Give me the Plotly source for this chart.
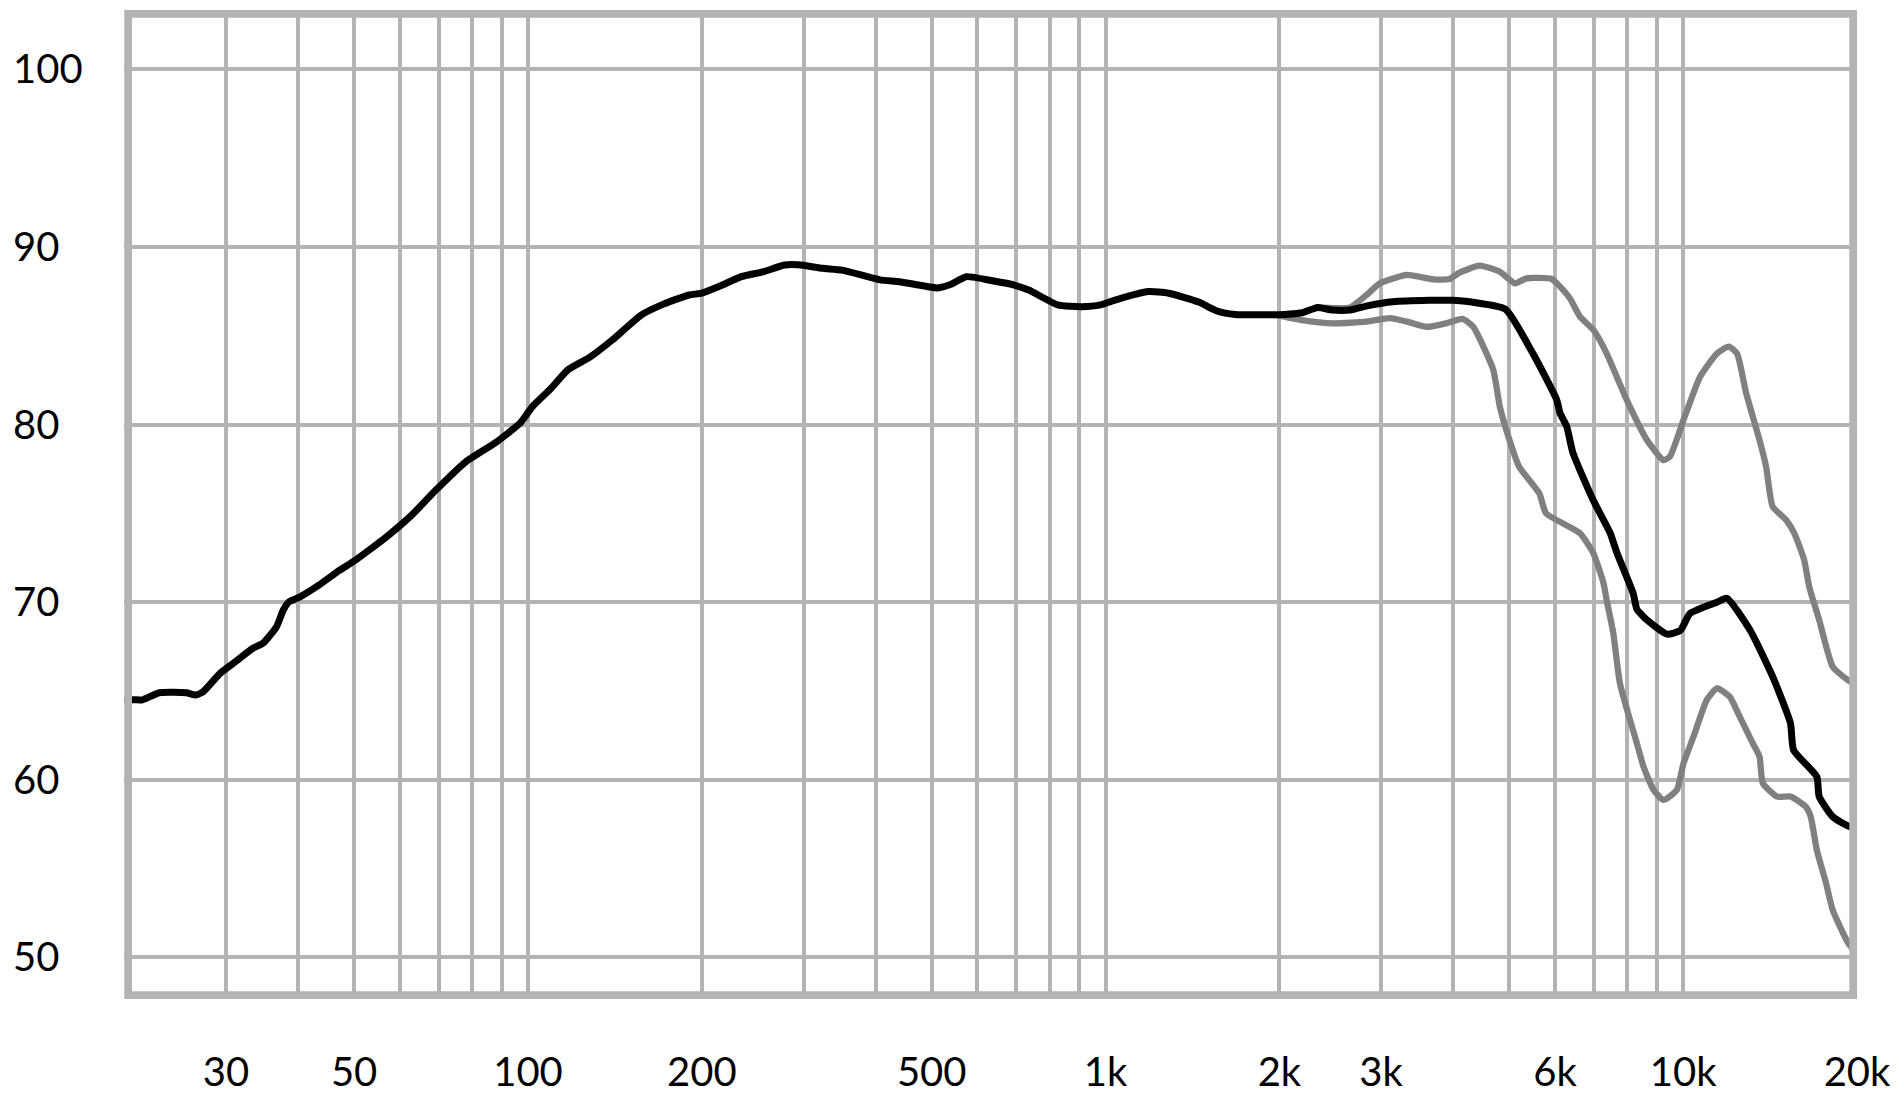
import math
import plotly.graph_objects as go

# ---------------- data ----------------
black_freq = [20, 20.7, 21.5, 23.0, 25.6, 26.6, 27.4, 29.3, 30.9, 33.4, 34.8, 36.7, 37.7, 38.6, 40.3,
              43.5, 47.2, 49.8, 53.1, 57.0, 62.9, 69.2, 78.0, 88.0, 97.0, 101.7, 109.3, 117.4, 128,
              140, 157, 172, 190, 200, 215, 234, 255, 278, 294, 324, 350, 407, 440, 512, 540, 574,
              637, 695, 736, 826, 909, 980, 1035, 1187, 1286, 1450, 1559, 1676, 2036, 2187, 2330,
              2469, 2650, 2850, 3142, 3632, 4000, 4305, 4924, 5495, 6040, 6121, 6286, 6446, 6985,
              7474, 7676, 8193, 8315, 8431, 8655, 9375, 9885, 10280, 11440, 11910, 13070, 14290,
              15340, 15530, 17040, 17200, 18150, 19290, 20000]
black_db = [64.45, 64.5, 64.5, 64.9, 64.9, 64.77, 64.96, 65.99, 66.56, 67.4, 67.7, 68.62, 69.56, 70.03, 70.3,
            70.97, 71.8, 72.28, 72.94, 73.7, 74.9, 76.3, 77.9, 79.0, 80.1, 81.0, 82.0, 83.1, 83.8,
            84.77, 86.17, 86.8, 87.3, 87.4, 87.8, 88.33, 88.6, 88.99, 89.0, 88.8, 88.7, 88.15, 88.05, 87.7, 87.9, 88.33,
            88.1, 87.86, 87.58, 86.74, 86.64, 86.74, 87.0, 87.49, 87.4, 86.9, 86.4, 86.2, 86.2, 86.3, 86.6,
            86.45, 86.45, 86.7, 86.92, 87.0, 87.0, 86.9, 86.5, 84.0, 81.4, 80.65, 79.9, 78.4, 75.75,
            73.9, 72.8, 70.5, 69.6, 69.37, 69.0, 68.2, 68.4, 69.37, 70.0, 70.22, 68.4, 65.8,
            63.18, 61.67, 60.17, 59.05, 57.92, 57.4, 57.2]

upper_freq = [2300, 2650, 2830, 2986, 3325, 3693, 3940, 4100, 4443, 4816, 5115, 5358, 5920, 6121, 6370,
              6628, 6993, 7374, 7986, 8655, 9248, 9487, 10014, 10700, 11440, 11990, 12400, 12860, 13560,
              13920, 14290, 15080, 15580, 16200, 16530, 17200, 18150, 19310, 20000]
upper_db = [86.6, 86.6, 87.3, 87.96, 88.43, 88.18, 88.2, 88.56, 88.95, 88.61, 87.96, 88.24, 88.2, 87.77, 87.1,
            86.08, 85.33, 84.0, 81.39, 79.13, 78.0, 78.2, 80.26, 82.7, 84.0, 84.39, 84.0, 81.76, 79.13,
            77.63, 75.38, 74.63, 73.88, 72.38, 70.87, 69.0, 66.37, 65.6, 65.3]

lower_freq = [1950, 2172, 2480, 2830, 3105, 3325, 3599, 3880, 4150, 4333, 4689, 4816, 5004, 5200, 5636,
              5790, 6628, 6993, 7280, 7374, 7570, 7772, 8315, 8540, 8888, 9248, 9750, 10014, 10420, 10990,
              11440, 12040, 12530, 13200, 13560, 13740, 14540, 15340, 16300, 16630, 17040, 17680, 18150,
              19310, 20000]
lower_db = [86.2, 85.9, 85.7, 85.8, 86.0, 85.8, 85.5, 85.7, 85.95, 85.5, 83.1, 81.0, 79.13, 77.63, 76.13,
            75.0, 73.88, 72.75, 71.06, 70.1, 68.25, 65.43, 62.05, 60.73, 59.42, 58.86, 59.42, 60.92, 62.42, 64.5,
            65.15, 64.68, 63.55, 62.05, 61.3, 59.8, 59.05, 59.05, 58.48, 57.92, 56.04, 54.17, 52.66,
            50.8, 50.2]

grid_freqs = [30, 40, 50, 60, 70, 80, 90, 100, 200, 300, 400, 500, 600, 700, 800, 900,
              1000, 2000, 3000, 4000, 5000, 6000, 7000, 8000, 9000, 10000, 20000]
labels = {30: "30", 50: "50", 100: "100", 200: "200", 500: "500", 1000: "1k", 2000: "2k",
          3000: "3k", 6000: "6k", 10000: "10k", 20000: "20k"}
x_ticktext = [labels.get(f, "") for f in grid_freqs]

y_ticks = [50, 60, 70, 80, 90, 100]
y_range = [47.65, 103.35]
x_range_hz = [20, 20000]

# ---------------- styling ----------------
GRID = "#b3b3b3"
FONT = "Lato"
SMOOTH = 0.5

fig = go.Figure()
fig.add_trace(go.Scatter(x=lower_freq, y=lower_db, mode="lines",
                         line=dict(color="#808080", width=6.3, shape="spline", smoothing=SMOOTH),
                         hoverinfo="skip"))
fig.add_trace(go.Scatter(x=upper_freq, y=upper_db, mode="lines",
                         line=dict(color="#808080", width=6.3, shape="spline", smoothing=SMOOTH),
                         hoverinfo="skip"))
fig.add_trace(go.Scatter(x=black_freq, y=black_db, mode="lines", yaxis="y2",
                         line=dict(color="#000000", width=7, shape="spline", smoothing=SMOOTH),
                         hoverinfo="skip"))

# the page body adds an 8 px offset; figure coordinates below are page coordinates minus 8
W, H = 1891, 1091
plot_left, plot_right, plot_top, plot_bottom = 116.3, 1849.2, 2, 991
ml, mr, mt, mb = 2, W - plot_right, plot_top, H - plot_bottom
dom0 = (plot_left - ml) / (W - ml - mr)

fig.update_layout(
    width=W, height=H,
    margin=dict(l=ml, r=mr, t=mt, b=mb, pad=0, autoexpand=False),
    paper_bgcolor="white", plot_bgcolor="white",
    showlegend=False,
    font=dict(family=FONT, size=40, color="black"),
    xaxis=dict(type="log", range=[math.log10(x_range_hz[0]), math.log10(x_range_hz[1])],
               domain=[dom0, 1], automargin=False,
               tickvals=grid_freqs, ticktext=x_ticktext,
               showgrid=True, gridcolor=GRID, gridwidth=3.5,
               zeroline=False, showline=False, ticks="",
               ticklabelstandoff=46,
               tickfont=dict(family=FONT, size=40, color="black")),
    yaxis=dict(range=y_range, tickvals=y_ticks, showticklabels=False, automargin=False,
               showgrid=True, gridcolor=GRID, gridwidth=3.5,
               zeroline=False, showline=False, ticks=""),
    yaxis2=dict(range=y_range, tickvals=y_ticks, overlaying="y", side="right",
                anchor="free", position=0, showgrid=False, zeroline=False, automargin=False,
                showline=False, ticks="", ticklabelstandoff=2,
                tickfont=dict(family=FONT, size=40, color="black")),
)

# plot frame drawn inside the plotting area edges
fw = 7.7
pw = plot_right - plot_left
ph = plot_bottom - plot_top
fig.add_shape(type="rect", xref="x domain", yref="y domain",
              x0=fw / 2 / pw, x1=1 - fw / 2 / pw, y0=fw / 2 / ph, y1=1 - fw / 2 / ph,
              line=dict(color=GRID, width=fw), fillcolor="rgba(0,0,0,0)", layer="above")

fig.write_html("out.html", config={"displayModeBar": False})
